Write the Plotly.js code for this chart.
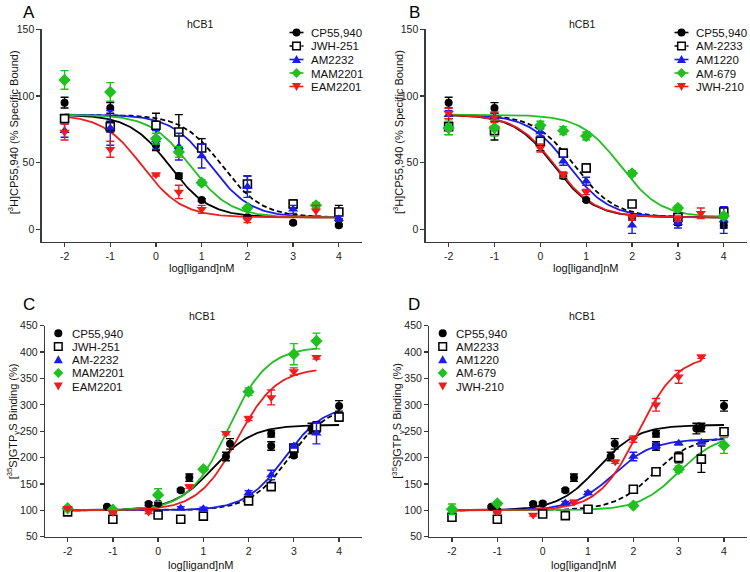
<!DOCTYPE html>
<html><head><meta charset="utf-8">
<script src="https://cdn.plot.ly/plotly-3.0.1.min.js"></script>
<style>html,body{margin:0;padding:0;background:#fff}</style>
</head><body><div id="chart" style="width:750px;height:572px"></div>
<script>
// ================= DATA =================
const xTickVals = [-2, -1, 0, 1, 2, 3, 4];
const xTickText = ['-2', '-1', '0', '1', '2', '3', '4'];
const bindTickVals = [0, 50, 100, 150];
const gtpTickVals = [50, 100, 150, 200, 250, 300, 350, 400, 450];

// ---- Panel A : [3H]CP55,940 displacement ----
const A_names = ['CP55,940', 'JWH-251', 'AM2232', 'MAM2201', 'EAM2201'];
const A_x_CP55940 = [-2, -1, 0, 0.5, 1, 2, 3, 4];
const A_y_CP55940 = [95, 91, 63, 40, 22, 9, 5, 3];
const A_e_CP55940 = [4, 4, 4, 2, 1, 1, 1, 1];
const A_x_JWH251 = [-2, -1, 0, 0.5, 1, 2, 3, 4];
const A_y_JWH251 = [83, 77, 78, 73, 61, 34, 19, 13];
const A_e_JWH251 = [3, 4, 9, 13, 7, 6, 3, 5];
const A_x_AM2232 = [-2, -1, 0, 0.5, 1, 2, 3, 4];
const A_y_AM2232 = [74, 76, 67, 62, 55, 32, 15, 8];
const A_e_AM2232 = [5, 13, 7, 10, 9, 8, 3, 2];
const A_x_MAM2201 = [-2, -1, 0, 0.5, 1, 2, 3.5];
const A_y_MAM2201 = [112, 103, 68, 58, 35, 16, 18];
const A_e_MAM2201 = [7, 7, 4, 4, 2, 1, 2];
const A_x_EAM2201 = [-2, -1, 0, 0.5, 1, 2, 3.5];
const A_y_EAM2201 = [73, 60, 41, 28, 15, 7, 14];
const A_e_EAM2201 = [6, 6, 1, 5, 3, 2, 4];
// fitted one-site curves (top, bottom, logIC50)
const A_fitTop = [86, 86, 86, 86, 86];
const A_fitBottom = [9, 9, 9, 9, 9];
const A_fitLogIC50 = [0.3, 1.45, 1.2, 0.75, -0.3];

// ---- Panel B ----
const B_names = ['CP55,940', 'AM-2233', 'AM1220', 'AM-679', 'JWH-210'];
const B_x_CP55940 = [-2, -1, 0, 0.5, 1, 2, 3, 4];
const B_y_CP55940 = [95, 91, 63, 40, 22, 9, 5, 3];
const B_e_CP55940 = [4, 4, 4, 2, 1, 2, 2, 2];
const B_x_AM2233 = [-2, -1, 0, 0.5, 1, 2, 3, 4];
const B_y_AM2233 = [77, 74, 66, 57, 46, 19, 9, 13];
const B_e_AM2233 = [6, 7, 3, 3, 3, 2, 2, 3];
const B_x_AM1220 = [-2, -1, 0, 0.5, 1, 2, 3, 4];
const B_y_AM1220 = [86, 84, 73, 51, 36, 3, 5, 7];
const B_e_AM1220 = [3, 3, 3, 3, 3, 6, 4, 10];
const B_x_AM679 = [-2, -1, 0, 0.5, 1, 2, 3, 4];
const B_y_AM679 = [76, 76, 78, 74, 70, 42, 16, 10];
const B_e_AM679 = [5, 6, 3, 3, 3, 2, 2, 2];
const B_x_JWH210 = [-2, -1, 0, 0.5, 1, 2, 3, 3.5];
const B_y_JWH210 = [87, 84, 61, 41, 28, 9, 8, 12];
const B_e_JWH210 = [4, 4, 3, 2, 2, 2, 2, 4];
const B_fitTop = [86, 86, 86, 86, 86];
const B_fitBottom = [9, 9, 9, 9, 9];
const B_fitLogIC50 = [0.3, 0.75, 0.62, 1.75, 0.33];

// ---- Panel C : [35S]GTPγS binding ----
const C_names = ['CP55,940', 'JWH-251', 'AM-2232', 'MAM2201', 'EAM2201'];
const C_x_CP55940 = [-2, -1.13, -1, -0.21, 0, 0.5, 0.69, 1.5, 1.59, 2.5, 2.5, 3, 3.39, 3.5, 4];
const C_y_CP55940 = [102, 107, 99, 112, 113, 138, 162, 202, 226, 245, 222, 204, 255, 257, 298];
const C_e_CP55940 = [2, 2, 2, 3, 3, 3, 7, 8, 10, 6, 8, 3, 10, 8, 10];
const C_x_JWH251 = [-2, -1, 0, 0.5, 1, 2, 2.5, 3, 3.5, 4];
const C_y_JWH251 = [97, 83, 91, 83, 89, 118, 145, 218, 258, 277];
const C_e_JWH251 = [2, 2, 3, 2, 3, 3, 3, 4, 10, 8];
const C_x_AM2232 = [0.5, 1, 2, 2.5, 3, 3.5];
const C_y_AM2232 = [104, 103, 133, 167, 222, 246];
const C_e_AM2232 = [3, 3, 4, 9, 4, 20];
const C_x_MAM2201 = [-2, -1, 0, 1, 2, 3, 3.5];
const C_y_MAM2201 = [104, 101, 129, 178, 325, 396, 421];
const C_e_MAM2201 = [3, 2, 12, 3, 7, 20, 15];
const C_x_EAM2201 = [-2, -1, -0.21, 0.69, 1.5, 2, 2.5, 3, 3.5];
const C_y_EAM2201 = [104, 96, 97, 145, 246, 274, 314, 363, 390];
const C_e_EAM2201 = [2, 2, 3, 3, 3, 4, 14, 7, 3];
const C_fitTop = [262, 300, 300, 410, 370];
const C_fitBottom = [100, 100, 100, 100, 100];
const C_fitLogEC50 = [1.22, 2.9, 2.8, 1.55, 1.75];
const C_fitEnd = [4, 4, 4, 3.5, 3.5];

// ---- Panel D ----
const D_names = ['CP55,940', 'AM2233', 'AM1220', 'AM-679', 'JWH-210'];
const D_x_CP55940 = [-2, -1.13, -1, -0.21, 0, 0.5, 0.69, 1.5, 1.59, 2.5, 2.5, 3, 3.39, 3.5, 4];
const D_y_CP55940 = [102, 107, 99, 112, 113, 138, 162, 202, 226, 245, 222, 204, 255, 257, 298];
const D_e_CP55940 = [2, 2, 2, 3, 3, 3, 7, 8, 10, 6, 8, 3, 10, 8, 10];
const D_x_AM2233 = [-2, -1, 0, 0.5, 1, 2, 2.5, 3, 3.5, 4];
const D_y_AM2233 = [87, 83, 93, 90, 102, 140, 173, 200, 197, 249];
const D_e_AM2233 = [3, 3, 3, 3, 3, 3, 4, 10, 25, 5];
const D_x_AM1220 = [0.5, 1, 2, 2.5, 3, 3.5];
const D_y_AM1220 = [114, 133, 202, 222, 227, 229];
const D_e_AM1220 = [3, 3, 8, 5, 3, 3];
const D_x_AM679 = [-2, -1, 2, 3, 4];
const D_y_AM679 = [102, 113, 109, 178, 223];
const D_e_AM679 = [10, 3, 3, 6, 15];
const D_x_JWH210 = [-1, -0.21, 0.69, 1.6, 2, 2.5, 3, 3.5];
const D_y_JWH210 = [97, 91, 116, 192, 235, 300, 353, 391];
const D_e_JWH210 = [2, 2, 3, 3, 6, 12, 12, 3];
const D_fitTop = [262, 240, 235, 245, 395];
const D_fitBottom = [100, 100, 100, 100, 100];
const D_fitLogEC50 = [1.22, 2.45, 1.55, 3.0, 2.1];
const D_fitEnd = [4, 4, 4, 4, 3.5];

// ================= STYLE / LAYOUT =================
const FONT = 'Liberation Sans, Arial, Helvetica, sans-serif';
const W = 750, H = 572;
const px = v => v / W;
const py = v => 1 - v / H;
const COLORS = ['#000000', '#000000', '#1c1ce8', '#1fc01f', '#ee1c1c'];
const SYMBOLS = ['circle', 'square', 'triangle-up', 'diamond', 'triangle-down'];
const MSIZE = [8, 8, 9, 9.5, 9];
const DASH = ['solid', 'dash', 'solid', 'solid', 'solid'];

// Variable-slope dose-response model used for the fitted curves
function doseResponse(x, bottom, top, logEC, slope) {
  return bottom + (top - bottom) / (1 + Math.pow(10, (logEC - x) * slope));
}

const panels = [
  { xa: 'x', ya: 'y', names: A_names,
    xs: [A_x_CP55940, A_x_JWH251, A_x_AM2232, A_x_MAM2201, A_x_EAM2201],
    ys: [A_y_CP55940, A_y_JWH251, A_y_AM2232, A_y_MAM2201, A_y_EAM2201],
    es: [A_e_CP55940, A_e_JWH251, A_e_AM2232, A_e_MAM2201, A_e_EAM2201],
    top: A_fitTop, bottom: A_fitBottom, logEC: A_fitLogIC50, slope: -1, end: [4, 4, 4, 4, 4] },
  { xa: 'x2', ya: 'y2', names: B_names,
    xs: [B_x_CP55940, B_x_AM2233, B_x_AM1220, B_x_AM679, B_x_JWH210],
    ys: [B_y_CP55940, B_y_AM2233, B_y_AM1220, B_y_AM679, B_y_JWH210],
    es: [B_e_CP55940, B_e_AM2233, B_e_AM1220, B_e_AM679, B_e_JWH210],
    top: B_fitTop, bottom: B_fitBottom, logEC: B_fitLogIC50, slope: -1, end: [4, 4, 4, 4, 4] },
  { xa: 'x3', ya: 'y3', names: C_names,
    xs: [C_x_CP55940, C_x_JWH251, C_x_AM2232, C_x_MAM2201, C_x_EAM2201],
    ys: [C_y_CP55940, C_y_JWH251, C_y_AM2232, C_y_MAM2201, C_y_EAM2201],
    es: [C_e_CP55940, C_e_JWH251, C_e_AM2232, C_e_MAM2201, C_e_EAM2201],
    top: C_fitTop, bottom: C_fitBottom, logEC: C_fitLogEC50, slope: 1, end: C_fitEnd },
  { xa: 'x4', ya: 'y4', names: D_names,
    xs: [D_x_CP55940, D_x_AM2233, D_x_AM1220, D_x_AM679, D_x_JWH210],
    ys: [D_y_CP55940, D_y_AM2233, D_y_AM1220, D_y_AM679, D_y_JWH210],
    es: [D_e_CP55940, D_e_AM2233, D_e_AM1220, D_e_AM679, D_e_JWH210],
    top: D_fitTop, bottom: D_fitBottom, logEC: D_fitLogEC50, slope: 1, end: D_fitEnd }
];

const traces = [];
panels.forEach(p => {
  // fitted curves first
  p.names.forEach((nm, i) => {
    const cx = [], cy = [];
    const n = 160, x0 = -2, x1 = p.end[i];
    for (let k = 0; k <= n; k++) {
      const x = x0 + (x1 - x0) * k / n;
      cx.push(x);
      cy.push(doseResponse(x, p.bottom[i], p.top[i], p.logEC[i], p.slope));
    }
    traces.push({ x: cx, y: cy, xaxis: p.xa, yaxis: p.ya, mode: 'lines', showlegend: false,
      hoverinfo: 'skip', line: { color: COLORS[i], width: 1.8, dash: DASH[i] === 'dash' ? '5px,3px' : 'solid' } });
  });
  // data points with error bars
  p.names.forEach((nm, i) => {
    const open = i === 1;
    traces.push({ x: p.xs[i], y: p.ys[i], xaxis: p.xa, yaxis: p.ya, name: nm, mode: 'markers',
      showlegend: false,
      marker: { symbol: SYMBOLS[i], size: MSIZE[i], color: open ? '#ffffff' : COLORS[i],
        line: { color: COLORS[i], width: open ? 1.6 : 0 } },
      error_y: { type: 'data', array: p.es[i], visible: true, color: COLORS[i], thickness: 1.4, width: 4 } });
  });
});

const axisCommon = {
  showline: true, linecolor: '#3a3a3a', linewidth: 1.3, ticks: 'outside', ticklen: 4,
  tickwidth: 1.3, tickcolor: '#3a3a3a', showgrid: false, zeroline: false,
  tickfont: { family: FONT, size: 10.5, color: '#222' }, fixedrange: true
};
const xAx = dom => Object.assign({}, axisCommon, { domain: dom, range: [-2.5, 4.5], tickvals: xTickVals, ticktext: xTickText });
const yBind = (dom, anchor) => Object.assign({}, axisCommon, { domain: dom, range: [-9.5, 150], tickvals: bindTickVals, anchor });
const yGtp = (dom, anchor) => Object.assign({}, axisCommon, { domain: dom, range: [50, 450], tickvals: gtpTickVals, anchor });

const topDom = [py(242), py(29.3)];
const botDom = [py(536.7), py(325.7)];

const annotations = [];
const ann = (x, y, text, opts) => annotations.push(Object.assign({
  xref: 'paper', yref: 'paper', x: px(x), y: py(y), text, showarrow: false,
  xanchor: 'center', yanchor: 'middle', font: { family: FONT, size: 11, color: '#111' }
}, opts || {}));

// panel letters
[['A', 29, 13], ['B', 414, 13], ['C', 29, 304], ['D', 414, 304]].forEach(a =>
  ann(a[1], a[2], a[0], { font: { family: FONT, size: 17, color: '#000' } }));
// subtitles
[[200, 24.5], [581.7, 24.5], [201.7, 316], [581.7, 316]].forEach(a =>
  ann(a[0], a[1], 'hCB1', { font: { family: FONT, size: 10.5, color: '#111' } }));
// axis titles
[[201.7, 268], [585, 268], [200, 565], [583, 565]].forEach(a => ann(a[0], a[1], 'log[ligand]nM'));
ann(13.3, 132, '[<sup>3</sup>H]CP55,940 (% Specific Bound)', { textangle: -90 });
ann(398, 132, '[<sup>3</sup>H]CP55,940 (% Specific Bound)', { textangle: -90 });
ann(13.3, 421, '[<sup>35</sup>S]GTP<sub>γ</sub>S Binding (%)', { textangle: -90 });
ann(397.7, 421, '[<sup>35</sup>S]GTP<sub>γ</sub>S Binding (%)', { textangle: -90 });

// custom legends (compact rows like the original)
const shapes = [];
function legendSymbol(i, cx, cy, withLine) {
  const base = { xref: 'paper', yref: 'paper', xsizemode: 'pixel', ysizemode: 'pixel',
    xanchor: px(cx), yanchor: py(cy) };
  if (withLine) shapes.push(Object.assign({}, base, { type: 'line', x0: -7, x1: 7, y0: 0, y1: 0,
    line: { color: COLORS[i], width: 1.6, dash: DASH[i] === 'dash' ? 'dot' : 'solid' } }));
  const fill = { fillcolor: COLORS[i], line: { width: 0 } };
  if (i === 0) shapes.push(Object.assign({}, base, fill, { type: 'circle', x0: -4, x1: 4, y0: -4, y1: 4 }));
  if (i === 1) shapes.push(Object.assign({}, base, { type: 'rect', x0: -3.8, x1: 3.8, y0: -3.8, y1: 3.8,
    fillcolor: '#ffffff', line: { color: '#000', width: 1.5 } }));
  if (i === 2) shapes.push(Object.assign({}, base, fill, { type: 'path', path: 'M -4.5,-3.5 L 4.5,-3.5 L 0,4.5 Z' }));
  if (i === 3) shapes.push(Object.assign({}, base, fill, { type: 'path', path: 'M 0,5 L 5,0 L 0,-5 L -5,0 Z' }));
  if (i === 4) shapes.push(Object.assign({}, base, fill, { type: 'path', path: 'M -4.5,3.5 L 4.5,3.5 L 0,-4.5 Z' }));
}
const legendSpecs = [
  { names: A_names, mx: 296.5, tx: 309, y0: 32.5, dy: 13.5, line: true },
  { names: B_names, mx: 681.5, tx: 694, y0: 32.5, dy: 13.5, line: true },
  { names: C_names, mx: 58.3, tx: 70, y0: 333.3, dy: 13.2, line: false },
  { names: D_names, mx: 442.7, tx: 454.3, y0: 333.3, dy: 13.2, line: false }
];
legendSpecs.forEach(L => {
  L.names.forEach((nm, i) => {
    const y = L.y0 + i * L.dy;
    legendSymbol(i, L.mx, y, L.line);
    ann(L.tx, y + 0.5, nm, { xanchor: 'left', font: { family: FONT, size: 11.5, color: '#111' } });
  });
});

const layout = {
  width: W, height: H, margin: { l: 0, r: 0, t: 0, b: 0 },
  paper_bgcolor: '#ffffff', plot_bgcolor: '#ffffff', showlegend: false,
  font: { family: FONT, color: '#111' },
  xaxis: xAx([px(41.7), px(361.7)]), yaxis: yBind(topDom, 'x'),
  xaxis2: Object.assign(xAx([px(425.7), px(746.7)]), { anchor: 'y2' }), yaxis2: yBind(topDom, 'x2'),
  xaxis3: Object.assign(xAx([px(45), px(361.7)]), { anchor: 'y3' }), yaxis3: yGtp(botDom, 'x3'),
  xaxis4: Object.assign(xAx([px(429.3), px(746.7)]), { anchor: 'y4' }), yaxis4: yGtp(botDom, 'x4'),
  annotations, shapes
};
layout.xaxis.anchor = 'y';

Plotly.newPlot('chart', traces, layout, { displayModeBar: false, staticPlot: true });
</script></body></html>
